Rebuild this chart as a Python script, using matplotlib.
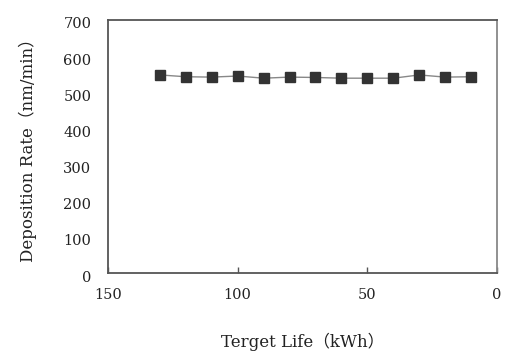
import matplotlib
matplotlib.use("Agg")
import matplotlib.pyplot as plt
from matplotlib.transforms import ScaledTranslation

target_life = [130, 120, 110, 100, 90, 80, 70, 60, 50, 40, 30, 20, 10]
dep_rate = [548, 543, 542, 545, 539, 542, 541, 539, 539, 539, 548, 542, 543]
x_ticks = [150, 100, 50, 0]
y_ticks = [0, 100, 200, 300, 400, 500, 600, 700]

fam = ['DejaVu Serif', 'Noto Sans CJK JP']
plt.rcParams['font.family'] = fam

fig = plt.figure(figsize=(5.06, 3.53), dpi=100)
ax = fig.add_axes([108/506, 1-273/353, (497-108)/506, (273-20)/353])

ax.plot(target_life, dep_rate, color='#888888', linewidth=1.0,
        marker='s', markersize=7.5, markerfacecolor='#333333',
        markeredgecolor='#333333', zorder=3)

ax.set_xlim(150, 0)
ax.set_ylim(0, 700)
ax.set_xticks(x_ticks)
ax.set_yticks(y_ticks)
ax.tick_params(axis='x', direction='in', length=4, width=1, color='#555555',
               labelsize=10.5, pad=11, labelcolor='#222222')
ax.tick_params(axis='y', length=0, labelsize=10.5, pad=12, labelcolor='#222222')
off = ScaledTranslation(0, -3/100, fig.dpi_scale_trans)
for lab in ax.get_yticklabels():
    lab.set_transform(lab.get_transform() + off)

for s in ax.spines.values():
    s.set_color('#555555')
    s.set_linewidth(1.3)
ax.spines['right'].set_color('#888888')

ax.set_xlabel('Terget Life（kWh）', fontsize=12, labelpad=22, color='#222222')
ax.set_ylabel('Deposition Rate（nm/min）', fontsize=12, labelpad=19, color='#222222')

fig.savefig('out.png', dpi=100)
